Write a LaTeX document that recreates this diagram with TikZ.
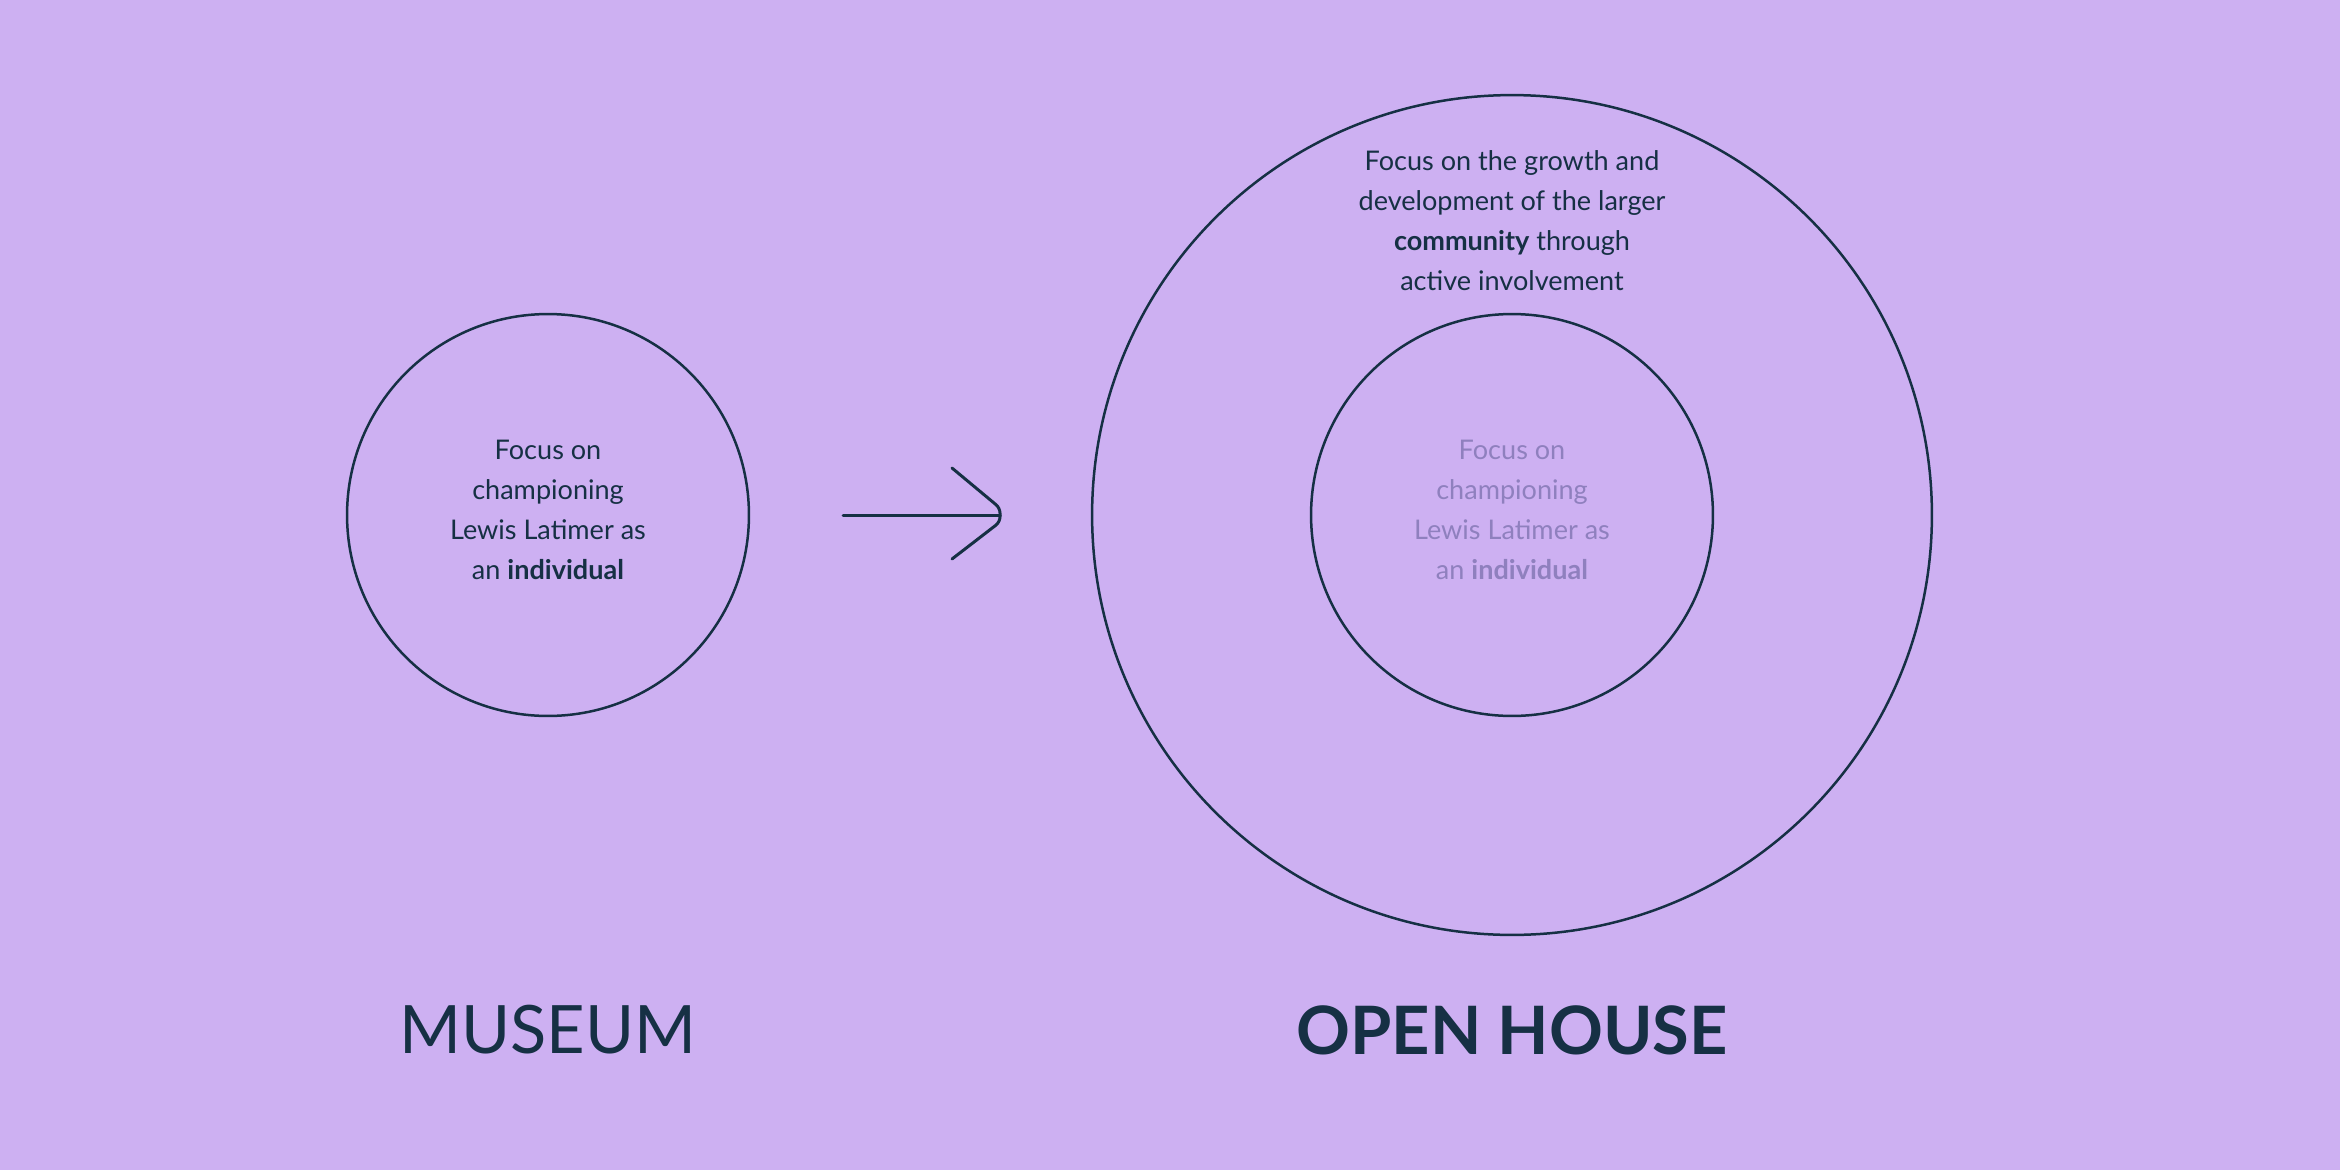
\documentclass[tikz,border=0pt]{standalone}
\usepackage{fontspec}
\setmainfont{Lato}
\usetikzlibrary{positioning}
\definecolor{lilac}{HTML}{CDB0F2}
\definecolor{ink}{HTML}{163044}
\definecolor{faded}{HTML}{8F80BE}
\tikzset{
  ring/.style={draw=ink, circle, line width=.05cm, inner sep=0pt},
  blurb/.style={align=center, font=\fontsize{15.4}{22.8}\selectfont, text=ink},
  heading/.style={font=\fontsize{38}{40}\selectfont, text=ink},
  flow/.style={draw=ink, line width=.06cm, line cap=round, line join=round}
}
\begin{document}
\begin{tikzpicture}[x=.02cm,y=-.02cm]
  \fill[lilac] (0,0) rectangle (2340,1170);

  % museum side
  \node[ring,minimum size=8.04cm] (museum) at (548,515) {};
  \node[blurb] (museumtext) at (548,510)
    {Focus on\\championing\\Lewis Latimer as\\an \textbf{individual}};
  \node[heading] (museumtitle) at (548,1030) {MUSEUM};

  % arrow
  \coordinate (from) at (843,515);
  \coordinate (to) at (1000,515);
  \draw[flow] (from) -- (to);
  \draw[flow,rounded corners=.1cm] ([shift={(-48,-47)}]to) -- ++(48,40) -- ++(0,14) -- ++(-48,37);

  % open house side
  \node[ring,minimum size=16.8cm] (community) at (1512,515) {};
  \node[ring,minimum size=8.04cm] (inner) at (community.center) {};
  \node[blurb,text=faded] (innertext) at (1512,510)
    {Focus on\\championing\\Lewis Latimer as\\an \textbf{individual}};
  \node[blurb] (growth) at (1512,221)
    {Focus on the growth and\\development of the larger\\\textbf{community} through\\active involvement};
  \node[heading,font=\fontsize{38}{40}\selectfont\bfseries] (housetitle) at (1512,1030) {OPEN HOUSE};
\end{tikzpicture}
\end{document}
